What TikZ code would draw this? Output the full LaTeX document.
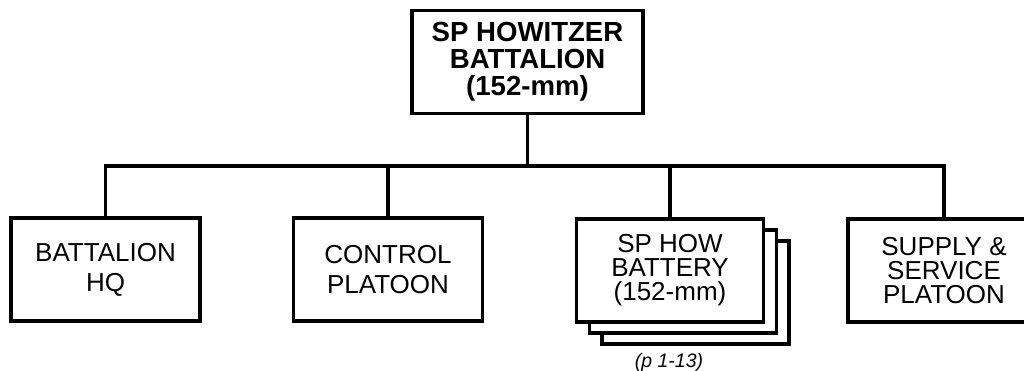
\documentclass[tikz,border=0pt]{standalone}
\usepackage{fontspec}
\setmainfont{Liberation Sans}
\begin{document}
\begin{tikzpicture}[x=1pt,y=-1pt,
  orgbox/.style={draw=black, line width=3.2pt, fill=white, inner sep=0pt, align=center,
    minimum width=189pt, minimum height=103pt, font=\fontsize{26}{30}\selectfont},
  three/.style={font=\fontsize{26}{24}\selectfont},
  topbox/.style={orgbox, minimum width=231pt, font=\bfseries\fontsize{27.6}{27}\selectfont},
  link/.style={line width=3.2pt, line cap=rect}]
\useasboundingbox (0,0) rectangle (1024,371);
\node[topbox] (top) at (527.5,62) {SP HOWITZER\\BATTALION\\(152-mm)};
\node[orgbox] (hq) at (105.5,269.5) {BATTALION\\HQ};
\node[orgbox] (ctrl) at (388,269.5) {CONTROL\\PLATOON};
\node[orgbox, minimum width=187pt] (bat3) at (695.5,292.5) {};
\node[orgbox, minimum width=187pt] (bat2) at (683,281.5) {};
\node[orgbox, three, minimum width=187pt] (bat) at (670,270.5) {SP HOW\\BATTERY\\(152-mm)};
\node[orgbox, three, minimum width=192pt] (sup) at (944,270.5) {SUPPLY \&\\SERVICE\\PLATOON};
\node[font=\itshape\fontsize{19.5}{22}\selectfont, inner sep=0pt] (ref) at (669,362) {(p 1-13)};
\coordinate (bus) at (0,166);
\draw[link] (top.south) -- (top.south |- bus);
\draw[link] (hq.north) -- (hq.north |- bus) -- (sup.north |- bus) -- (sup.north);
\draw[link] (ctrl.north) -- (ctrl.north |- bus);
\draw[link] (bat.north) -- (bat.north |- bus);
\end{tikzpicture}
\end{document}
